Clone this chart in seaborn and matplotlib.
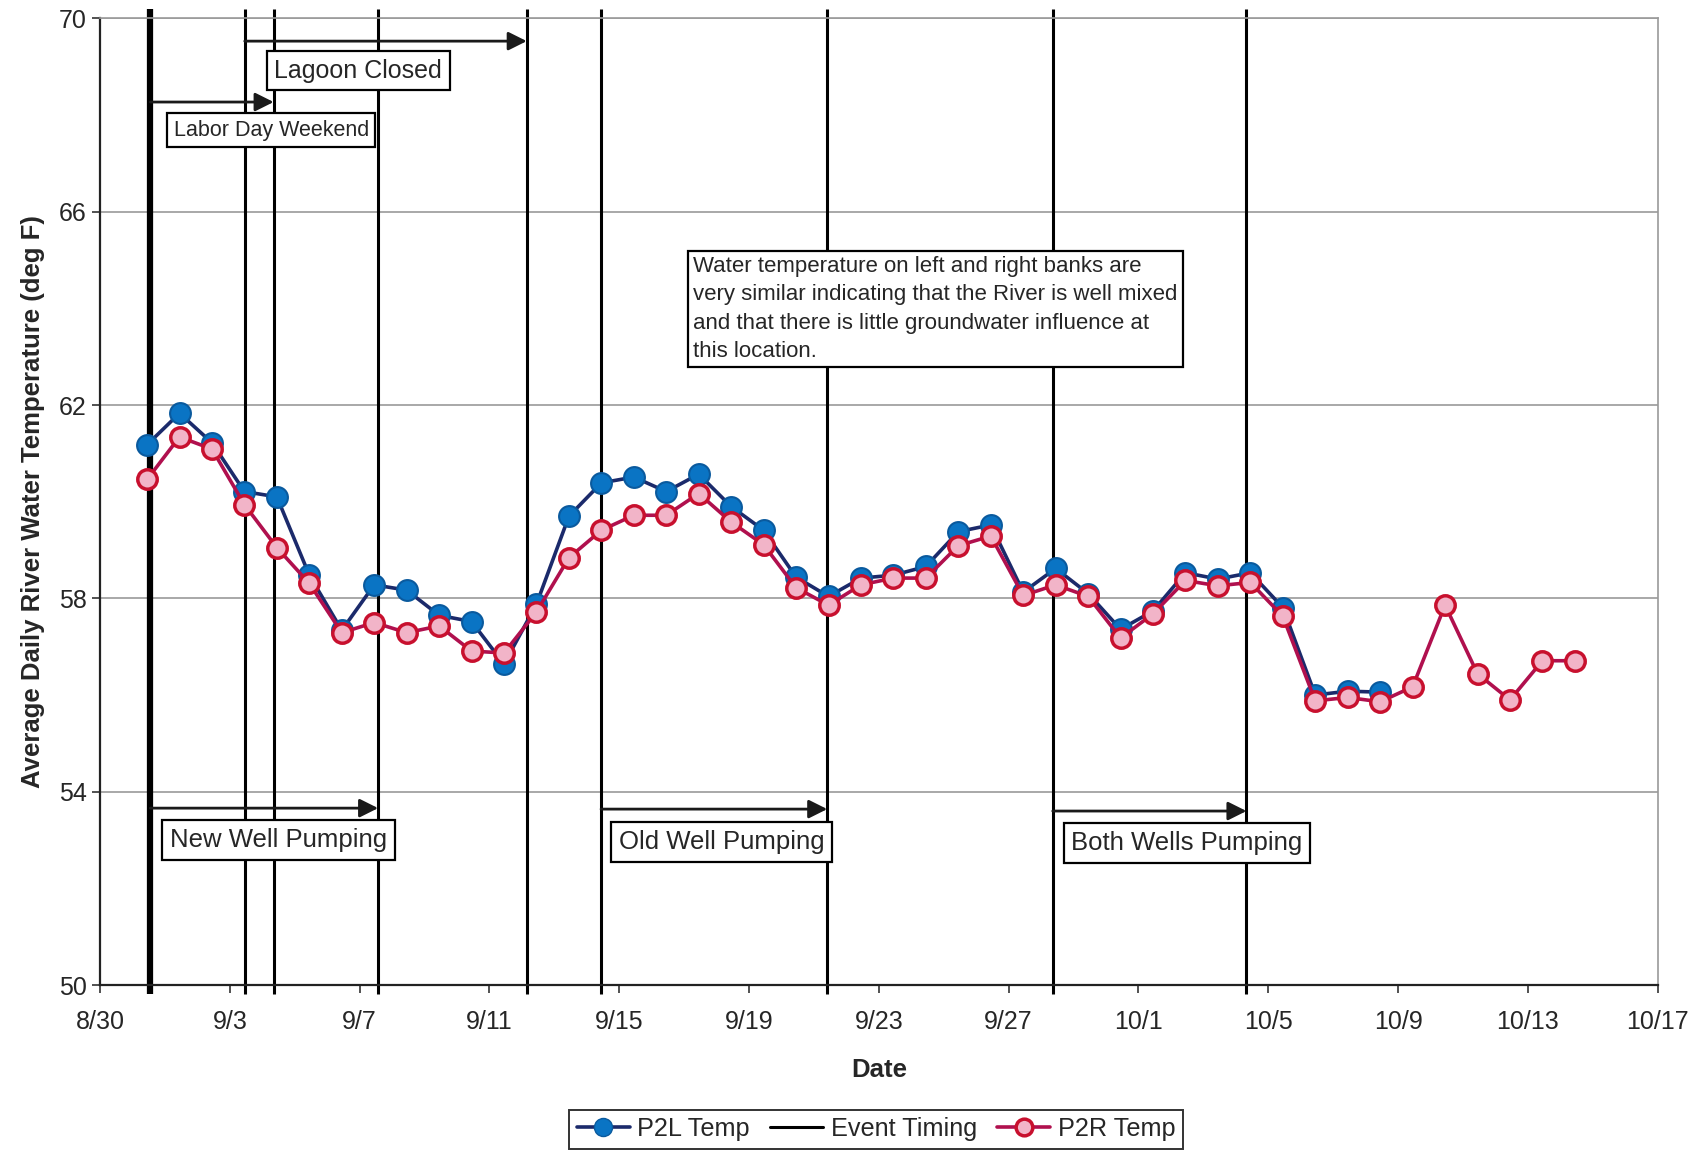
import matplotlib
matplotlib.use('Agg')
import matplotlib.pyplot as plt
from matplotlib.lines import Line2D
import numpy as np
import pandas as pd
import seaborn as sns

# days are counted from 8/30; daily points sit about 1.45 days in
first_day = 1.45
p2l_temp = [61.18, 61.83, 61.22, 60.21, 60.10, 58.48, 57.34, 58.28, 58.17, 57.65,
            57.52, 56.64, 57.88, 59.70, 60.39, 60.51, 60.21, 60.57, 59.90, 59.41,
            58.44, 58.04, 58.42, 58.48, 58.66, 59.38, 59.52, 58.13, 58.62, 58.10,
            57.36, 57.74, 58.53, 58.40, 58.53, 57.81, 56.00, 56.08, 56.06]
p2r_temp = [60.46, 61.34, 61.09, 59.94, 59.05, 58.31, 57.29, 57.50, 57.29, 57.43,
            56.91, 56.87, 57.72, 58.84, 59.41, 59.72, 59.72, 60.17, 59.58, 59.11,
            58.22, 57.86, 58.28, 58.42, 58.42, 59.09, 59.29, 58.06, 58.28, 58.04,
            57.18, 57.68, 58.37, 58.26, 58.33, 57.63, 55.88, 55.95, 55.86, 56.17,
            57.86, 56.44, 55.90, 56.71, 56.71]

event_days = [1.55, 4.46, 5.35, 8.57, 13.15, 15.44, 22.41, 29.36, 35.33]
event_widths = [4.5, 2.2, 2.2, 2.2, 2.2, 2.2, 2.2, 2.2, 2.2]

tick_days = [0, 4, 8, 12, 16, 20, 24, 28, 32, 36, 40, 44, 48]
tick_labels = ['8/30', '9/3', '9/7', '9/11', '9/15', '9/19', '9/23', '9/27',
               '10/1', '10/5', '10/9', '10/13', '10/17']

# arrows: (start day, end day, temp)
arrows = [(4.46, 13.15, 69.53), (1.55, 5.35, 68.27), (1.55, 8.57, 53.66),
          (15.44, 22.41, 53.64), (29.36, 35.33, 53.60)]
# labels: (text, centre day, temp, fontsize)
labels = [('Lagoon Closed', 7.96, 68.92, 18), ('Labor Day Weekend', 5.28, 67.69, 15.5),
          ('New Well Pumping', 5.5, 53.0, 18.5), ('Old Well Pumping', 19.15, 52.96, 18.5),
          ('Both Wells Pumping', 33.5, 52.94, 18.5)]
note = ('Water temperature on left and right banks are\n'
        'very similar indicating that the River is well mixed\n'
        'and that there is little groundwater influence at\n'
        'this location.')

df_l = pd.DataFrame({'day': first_day + np.arange(len(p2l_temp)), 'temp': p2l_temp})
df_r = pd.DataFrame({'day': first_day + np.arange(len(p2r_temp)), 'temp': p2r_temp})

sns.set_style('white')
plt.rcParams['font.family'] = ['Liberation Sans', 'DejaVu Sans']

fig = plt.figure(figsize=(17.01, 11.51), dpi=100)
ax = fig.add_axes([0.0588, 0.1442, 0.9157, 0.8398])

for d, w in zip(event_days, event_widths):
    ax.plot([d, d], [49.82, 70.2], color='black', lw=w, clip_on=False, zorder=2,
            solid_capstyle='butt')

sns.lineplot(data=df_l, x='day', y='temp', ax=ax, color='#1b2a6b', lw=2.6,
             marker='o', markersize=15, markerfacecolor='#0a74c4',
             markeredgecolor='#0a5a9e', markeredgewidth=1.5, zorder=3)
sns.lineplot(data=df_r, x='day', y='temp', ax=ax, color='#b0104e', lw=2.6,
             marker='o', markersize=14, markerfacecolor='#f2b4c8',
             markeredgecolor='#c8102e', markeredgewidth=2.5, zorder=4)

for x0, x1, y in arrows:
    ax.annotate('', xy=(x1, y), xytext=(x0, y),
                arrowprops=dict(arrowstyle='-|>', color='#1a1a1a', lw=2,
                                mutation_scale=28, shrinkA=0, shrinkB=0), zorder=5)

box = dict(boxstyle='square,pad=0.3', fc='white', ec='black', lw=1.6)
for txt, x, y, fs in labels:
    ax.text(x, y, txt, fontsize=fs, ha='center', va='center', bbox=box, zorder=6)
ax.text(18.28, 65.08, note, fontsize=16, ha='left', va='top', linespacing=1.45,
        bbox=dict(boxstyle='square,pad=0.25', fc='white', ec='black', lw=1.6), zorder=6)

ax.set_xlim(0, 48)
ax.set_ylim(50, 70)
ax.set_xticks(tick_days)
ax.set_xticklabels(tick_labels)
ax.set_yticks([50, 54, 58, 62, 66, 70])
ax.tick_params(axis='both', direction='out', length=6, width=1.2, labelsize=18,
               left=True, bottom=True, color='#333333')
ax.tick_params(axis='x', pad=12)
ax.yaxis.grid(True, color='#9a9a9a', lw=1.2)
ax.set_axisbelow(True)
for s in ['left', 'bottom']:
    ax.spines[s].set_color('#222222')
    ax.spines[s].set_linewidth(1.6)
for s in ['top', 'right']:
    ax.spines[s].set_color('#9a9a9a')
    ax.spines[s].set_linewidth(1.2)

ax.set_xlabel('Date', fontsize=18.5, fontweight='bold', labelpad=17)
ax.set_ylabel('Average Daily River Water Temperature (deg F)', fontsize=18.5,
              fontweight='bold', labelpad=10)

handles = [Line2D([], [], color='#1b2a6b', lw=2.6, marker='o', markersize=13,
                  markerfacecolor='#0a74c4', markeredgecolor='#0a5a9e'),
           Line2D([], [], color='black', lw=2.2),
           Line2D([], [], color='#b0104e', lw=2.6, marker='o', markersize=12,
                  markerfacecolor='#f2b4c8', markeredgecolor='#c8102e', markeredgewidth=2.5)]
leg = fig.legend(handles, ['P2L Temp', 'Event Timing', 'P2R Temp'], loc='lower center',
                 bbox_to_anchor=(0.515, -0.009), ncol=3, fontsize=18.2, frameon=True,
                 fancybox=False, edgecolor='black', handlelength=2.1,
                 handletextpad=0.3, columnspacing=0.8, borderpad=0.3)
leg.get_frame().set_linewidth(1.4)

fig.savefig('out.png', dpi=100)
